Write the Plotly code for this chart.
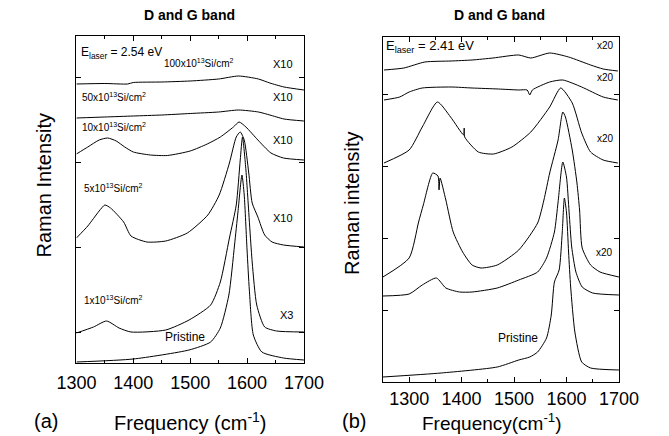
import plotly.graph_objects as go

W, H = 669, 436

# ---------------- Panel (a) data (E_laser = 2.54 eV) ----------------
a_pristine_f = [1300, 1400, 1498, 1536, 1553, 1568, 1578, 1584, 1591, 1595, 1600, 1604, 1611, 1626, 1664, 1700]
a_pristine_i = [1, 4, 13, 21, 35, 68, 118, 151, 188, 168, 113, 73, 28, 11, 5, 3]

a_1x_f = [1300, 1330, 1353, 1375, 1396, 1457, 1498, 1536, 1553, 1569, 1581, 1588, 1592, 1598, 1601, 1609, 1617, 1631, 1652, 1700]
a_1x_i = [30, 36, 42, 35, 31, 33, 43, 58, 81, 125, 158, 203, 226, 193, 168, 101, 58, 36, 32, 31]

a_5x_f = [1300, 1320, 1340, 1350, 1360, 1383, 1396, 1424, 1457, 1495, 1531, 1551, 1569, 1581, 1588, 1595, 1603, 1609, 1619, 1631, 1644, 1664, 1700]
a_5x_i = [125, 137, 152, 158, 155, 141, 127, 121, 122, 130, 148, 168, 200, 226, 231, 223, 190, 160, 146, 128, 121, 118, 116]

a_10x_f = [1300, 1320, 1340, 1355, 1370, 1385, 1400, 1430, 1460, 1500, 1530, 1553, 1576, 1586, 1598, 1619, 1642, 1664, 1700]
a_10x_i = [209, 216, 223, 225, 222, 216, 211, 208, 207.5, 212, 219, 226, 236, 241, 236, 223, 210, 205, 203]

a_50x_f = [1300, 1350, 1400, 1450, 1500, 1550, 1585, 1620, 1640, 1665, 1700]
a_50x_i = [245, 246, 247, 248, 249.5, 251, 253, 251, 248, 244, 242]

a_100x_f = [1300, 1350, 1390, 1400, 1450, 1500, 1550, 1585, 1620, 1640, 1665, 1700]
a_100x_i = [279, 279.5, 279, 280.5, 281, 282, 284, 287, 284, 280, 276, 273]

# ---------------- Panel (b) data (E_laser = 2.41 eV) ----------------
b_pristine_f = [1250, 1361, 1468, 1509, 1530, 1545, 1562, 1571, 1577, 1586, 1592, 1596, 1600, 1604, 1608, 1616, 1629, 1646, 1700]
b_pristine_i = [5, 9, 15, 22, 25, 30, 44, 67, 100, 112, 150, 184, 170, 130, 95, 50, 20, 14, 12]

b_c5_f = [1250, 1300, 1325, 1352, 1370, 1396, 1420, 1468, 1509, 1545, 1562, 1577, 1584, 1593, 1600, 1605, 1610, 1618, 1630, 1650, 1700]
b_c5_i = [86, 88, 97, 104, 94, 90, 90, 94, 102, 110, 124, 150, 180, 220, 205, 170, 135, 110, 95, 89, 87]

b_c4_f = [1250, 1300, 1318, 1327, 1345, 1355, 1357, 1359, 1370, 1384, 1402, 1420, 1437, 1468, 1509, 1545, 1557, 1568, 1584, 1593, 1598, 1611, 1620, 1625, 1630, 1646, 1664, 1700]
b_c4_i = [105, 124, 160, 177, 209, 206, 192, 204, 182, 150, 130, 117, 114, 117, 132, 159, 182, 209, 242, 270, 265, 232, 199, 172, 134, 117, 110, 105]

b_c3_f = [1252, 1300, 1325, 1354, 1379, 1404, 1405, 1406, 1432, 1461, 1496, 1532, 1568, 1589, 1611, 1629, 1646, 1670, 1698]
b_c3_i = [219, 232, 255, 280, 265, 247, 254, 245, 230, 228, 235, 250, 275, 294, 279, 249, 230, 222, 219]

b_c2_f = [1252, 1282, 1300, 1325, 1380, 1420, 1470, 1509, 1525, 1530, 1535, 1568, 1593, 1629, 1670, 1698]
b_c2_i = [282, 285, 290, 294, 295, 294, 293, 292, 292, 287, 292, 300, 302, 295, 285, 282]

b_c1_f = [1252, 1290, 1330, 1380, 1420, 1460, 1509, 1532, 1568, 1604, 1646, 1670, 1698]
b_c1_i = [312, 314, 320, 321, 322, 324, 327, 324, 329, 325, 317, 313, 311]

x_ticks = [1300, 1400, 1500, 1600, 1700]

FONT = "Arial, Liberation Sans, sans-serif"

fig = go.Figure()
line = dict(color="black", width=1, shape="spline", smoothing=0.6)
for f, i in [(a_pristine_f, a_pristine_i), (a_1x_f, a_1x_i), (a_5x_f, a_5x_i),
             (a_10x_f, a_10x_i), (a_50x_f, a_50x_i), (a_100x_f, a_100x_i)]:
    fig.add_trace(go.Scatter(x=f, y=i, mode="lines", line=line, xaxis="x", yaxis="y", showlegend=False))
for f, i in [(b_pristine_f, b_pristine_i), (b_c5_f, b_c5_i), (b_c4_f, b_c4_i),
             (b_c3_f, b_c3_i), (b_c2_f, b_c2_i), (b_c1_f, b_c1_i)]:
    fig.add_trace(go.Scatter(x=f, y=i, mode="lines", line=line, xaxis="x2", yaxis="y2", showlegend=False))


def px(x):
    return x / W


def py(y):
    return 1 - y / H


common_x = dict(showline=True, linecolor="black", linewidth=1, mirror="ticks", ticks="inside",
                ticklen=5, tickcolor="black", showgrid=False, zeroline=False,
                tickfont=dict(family=FONT, size=18, color="black"), tickvals=x_ticks,
                minor=dict(ticks="inside", ticklen=3, dtick=50, tick0=1250, tickcolor="black", showgrid=False))
common_y = dict(showline=True, linecolor="black", linewidth=1, mirror="ticks", ticks="inside",
                ticklen=5, tickcolor="black", showgrid=False, zeroline=False, showticklabels=False)

fig.update_layout(
    width=W, height=H, margin=dict(l=0, r=0, t=0, b=0),
    paper_bgcolor="white", plot_bgcolor="white",
    xaxis=dict(domain=[px(60), px(302)], range=[1300, 1700], anchor="y", ticklabelstandoff=3, **common_x),
    yaxis=dict(domain=[py(363), py(36)], range=[0, 327], anchor="x", tickvals=[31, 116, 201, 286], **common_y),
    xaxis2=dict(domain=[px(386), px(637)], range=[1250, 1700], anchor="y2", ticklabelstandoff=0, **common_x),
    yaxis2=dict(domain=[py(382), py(37)], range=[0, 345], anchor="x2", tickvals=[72, 144, 216, 288], **common_y),
)


def ann(text, x, y, size, xanchor="left", bold=False, angle=0):
    if bold:
        text = "<b>" + text + "</b>"
    fig.add_annotation(text=text, x=px(x), y=py(y), xref="paper", yref="paper",
                       xanchor=xanchor, yanchor="middle", showarrow=False, textangle=angle,
                       font=dict(family=FONT, size=size, color="black"))


# titles
ann("D and G band", 180, 15, 14, "center", bold=True)
ann("D and G band", 510, 15, 14, "center", bold=True)
ann("Raman Intensity", 25, 185, 20, "center", angle=-90)
ann("Raman intensity", 353, 203, 20, "center", angle=-90)
ann("Frequency (cm<sup>-1</sup>)", 181, 421, 20, "center")
ann("Frequency(cm<sup>-1</sup>)", 502, 422, 19, "center")
ann("(a)", 28, 421, 20, "center")
ann("(b)", 355, 421, 20, "center")

# panel (a) labels
ann("E<sub>laser</sub> = 2.54 eV", 63, 53, 12)
ann("100x10<sup>13</sup>Si/cm<sup>2</sup>", 151, 63, 10)
ann("X10", 292, 64, 11, "right")
ann("50x10<sup>13</sup>Si/cm<sup>2</sup>", 64, 97, 10)
ann("X10", 293, 97, 11, "right")
ann("10x10<sup>13</sup>Si/cm<sup>2</sup>", 64, 127, 10)
ann("X10", 293, 140, 11, "right")
ann("5x10<sup>13</sup>Si/cm<sup>2</sup>", 66, 188, 10)
ann("X10", 293, 218, 11, "right")
ann("1x10<sup>13</sup>Si/cm<sup>2</sup>", 66, 300, 10)
ann("X3", 293, 315, 11, "right")
ann("Pristine", 152, 337, 12)

# panel (b) labels
ann("E<sub>laser</sub> = 2.41 eV", 387, 47, 13)
ann("x20", 634, 45, 10, "right")
ann("x20", 634, 77, 10, "right")
ann("x20", 634, 138, 10, "right")
ann("x20", 633, 252, 10, "right")
ann("Pristine", 506, 338, 12)

fig.write_html("out.html")
